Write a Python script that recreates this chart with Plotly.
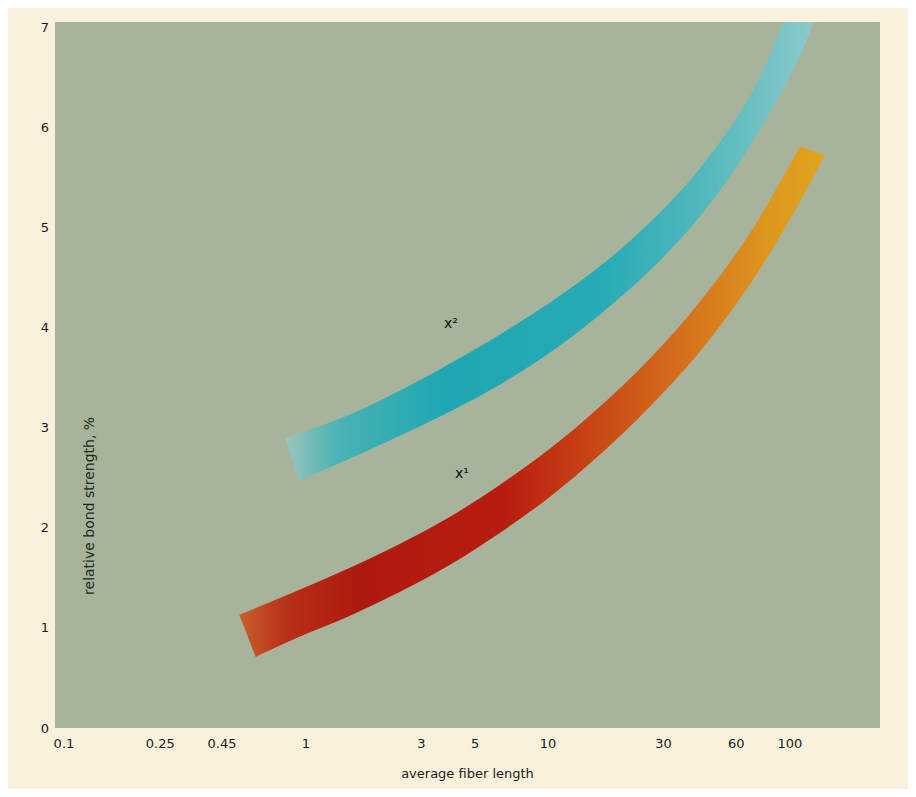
import math
import plotly.graph_objects as go

# ---- data ----
# upper (cyan) band: upper and lower edges
upper_top_x = [0.82, 1.52, 2.45, 3.94, 6.34, 10.2, 16.4, 26.4, 42.5, 68.3, 95.4]
upper_top_y = [2.89, 3.13, 3.37, 3.64, 3.93, 4.25, 4.61, 5.05, 5.59, 6.31, 7.09]
upper_bot_x = [0.94, 1.52, 2.45, 3.94, 6.34, 10.2, 16.4, 26.4, 42.5, 68.3, 110, 127]
upper_bot_y = [2.47, 2.69, 2.92, 3.16, 3.43, 3.75, 4.13, 4.57, 5.11, 5.81, 6.71, 7.10]
upper_colors = [[0.0, "#9cc6bc"], [0.1, "#4ab2b4"], [0.3, "#1ea7b2"],
                [0.6, "#27abb5"], [0.8, "#55b9bd"], [1.0, "#8ccaca"]]

# lower (red/orange) band: upper and lower edges
lower_top_x = [0.53, 0.94, 1.52, 2.45, 3.94, 6.34, 10.2, 16.4, 26.4, 42.5, 68.3, 110]
lower_top_y = [1.13, 1.38, 1.60, 1.84, 2.11, 2.43, 2.79, 3.21, 3.69, 4.26, 4.94, 5.81]
lower_bot_x = [0.62, 0.94, 1.52, 2.45, 3.94, 6.34, 10.2, 16.4, 26.4, 42.5, 68.3, 100, 139.5]
lower_bot_y = [0.71, 0.91, 1.12, 1.36, 1.63, 1.95, 2.31, 2.73, 3.21, 3.76, 4.43, 5.08, 5.72]
lower_colors = [[0.0, "#c8602e"], [0.08, "#b83018"], [0.2, "#ae1a10"], [0.45, "#b81c10"],
                [0.6, "#c84416"], [0.75, "#d46e1c"], [0.9, "#dc961e"], [1.0, "#e0a41e"]]

x_tickvals = [0.1, 0.25, 0.45, 1, 3, 5, 10, 30, 60, 100]
x_ticktext = ["0.1", "0.25", "0.45", "1", "3", "5", "10", "30", "60", "100"]
y_tickvals = [0, 1, 2, 3, 4, 5, 6, 7]
y_ticktext = ["0", "1", "2", "3", "4", "5", "6", "7"]

annot_labels = ["x²", "x¹"]
annot_x = [3.97, 4.42]
annot_y = [4.04, 2.55]

fig = go.Figure()

def add_band(bx, by, tx, ty, cs):
    fig.add_trace(go.Scatter(x=bx, y=by, mode="lines",
                             line=dict(width=0, shape="spline", color="rgba(0,0,0,0)"),
                             hoverinfo="skip", showlegend=False))
    fig.add_trace(go.Scatter(x=tx, y=ty, mode="lines", fill="tonexty",
                             line=dict(width=0, shape="spline", color="rgba(0,0,0,0)"),
                             fillgradient=dict(type="horizontal", colorscale=cs),
                             hoverinfo="skip", showlegend=False))

add_band(upper_bot_x, upper_bot_y, upper_top_x, upper_top_y, upper_colors)
add_band(lower_bot_x, lower_bot_y, lower_top_x, lower_top_y, lower_colors)

for t, ax_, ay_ in zip(annot_labels, annot_x, annot_y):
    fig.add_annotation(x=math.log10(ax_), y=ay_, xref="x", yref="y", text=t, showarrow=False,
                       font=dict(family="DejaVu Sans", size=14, color="#111111"))

fig.add_annotation(x=math.log10(0.126), y=2.22, xref="x", yref="y",
                   text="relative bond strength, %",
                   textangle=-90, showarrow=False,
                   font=dict(family="DejaVu Sans", size=14, color="#1a2a18"))

fig.update_layout(
    width=900, height=781,
    margin=dict(l=47, r=28, t=14, b=61, autoexpand=False),
    paper_bgcolor="#f9f1dc",
    plot_bgcolor="#a8b39b",
    font=dict(family="DejaVu Sans", size=13, color="#1a1a1a"),
    xaxis=dict(type="log", range=[-1.037, 2.372], tickvals=x_tickvals, ticktext=x_ticktext,
               showgrid=False, zeroline=False, ticks="", automargin=False,
               ticklabelstandoff=6,
               title=dict(text="average fiber length", font=dict(size=13), standoff=18)),
    yaxis=dict(range=[0, 7.05], tickvals=y_tickvals, ticktext=y_ticktext,
               showgrid=False, zeroline=False, ticks="", automargin=False,
               ticklabelstandoff=5),
    showlegend=False,
)

fig.write_html("out.html")
